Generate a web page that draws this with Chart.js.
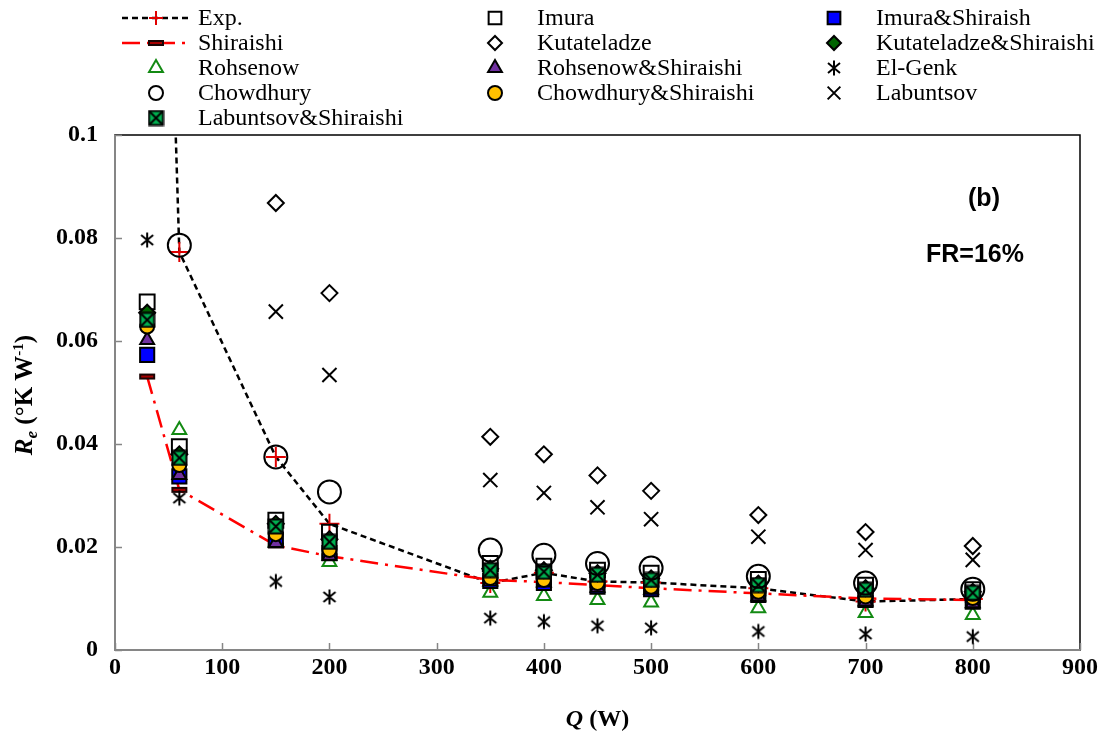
<!DOCTYPE html>
<html>
<head>
<meta charset="utf-8">
<script src="https://cdn.jsdelivr.net/npm/chart.js@4.4.1/dist/chart.umd.min.js"></script>
<style>
  html, body { margin: 0; padding: 0; background: #fff; }
</style>
</head>
<body>
<canvas id="chart" width="1106" height="741"></canvas>
<script>
// heat input Q (W)
const qValues = [30, 60, 150, 200, 350, 400, 450, 500, 600, 700, 800];

// evaporator resistance (null = above 0.1, off the plot)
const expValues = [0.28, 0.0773, 0.0375, 0.0245, 0.0130, 0.0150, 0.0133, 0.0131, 0.0120, 0.0094, 0.0099];
const shiraishiValues = [0.0531, 0.0311, 0.0203, 0.0182, 0.0136, 0.0132, 0.0126, 0.0120, 0.0110, 0.0100, 0.0097];
const rohsenowValues = [null, 0.0427, 0.0210, 0.0171, 0.0111, 0.0105, 0.0097, 0.0092, 0.0081, 0.0072, 0.0068];
const chowdhuryValues = [null, 0.0786, 0.0375, 0.0307, 0.0194, 0.0184, 0.0168, 0.0159, 0.0143, 0.0130, 0.0118];
const labShirValues = [0.0641, 0.0373, 0.0240, 0.0210, 0.0155, 0.0152, 0.0146, 0.0136, 0.0126, 0.0117, 0.0111];
const imuraValues = [0.0676, 0.0395, 0.0252, 0.0229, 0.0168, 0.0163, 0.0155, 0.0149, 0.0137, 0.0126, 0.0117];
const kutateladzeValues = [null, null, 0.0868, 0.0693, 0.0414, 0.0380, 0.0339, 0.0309, 0.0262, 0.0229, 0.0202];
const rohShirValues = [0.0602, 0.0340, 0.0208, 0.0183, 0.0133, 0.0131, 0.0121, 0.0117, 0.0104, 0.0094, 0.0091];
const chowShirValues = [0.0628, 0.0359, 0.0225, 0.0194, 0.0140, 0.0136, 0.0130, 0.0123, 0.0113, 0.0104, 0.0101];
const imuraShirValues = [0.0573, 0.0337, 0.0214, 0.0188, 0.0134, 0.0130, 0.0123, 0.0118, 0.0107, 0.0097, 0.0094];
const kutShirValues = [0.0655, 0.0380, 0.0245, 0.0215, 0.0158, 0.0155, 0.0149, 0.0139, 0.0129, 0.0120, 0.0113];
const elGenkValues = [0.0796, 0.0295, 0.0133, 0.0103, 0.0062, 0.0055, 0.0047, 0.0043, 0.0036, 0.0031, 0.0026];
const labuntsovValues = [null, null, 0.0657, 0.0534, 0.0330, 0.0305, 0.0277, 0.0254, 0.0220, 0.0194, 0.0175];

const xTicks = [0, 100, 200, 300, 400, 500, 600, 700, 800, 900];
const yTicks = [0, 0.02, 0.04, 0.06, 0.08, 0.1];

// legend grid, column by column
const legendColumns = [
  ['Exp.', 'Shiraishi', 'Rohsenow', 'Chowdhury', 'Labuntsov&Shiraishi'],
  ['Imura', 'Kutateladze', 'Rohsenow&Shiraishi', 'Chowdhury&Shiraishi'],
  ['Imura&Shiraish', 'Kutateladze&Shiraishi', 'El-Genk', 'Labuntsov']
];
const legendX = [156, 495, 834];
const legendY = [18, 43, 68, 93, 118];

const serif = 'Liberation Serif';

// small canvases for markers Chart.js has no style for
const makeMarker = (w, h, draw) => {
  const c = document.createElement('canvas');
  c.width = w;
  c.height = h;
  draw(c.getContext('2d'), w, h);
  return c;
};
const barMarker = makeMarker(18, 8, (ctx, w, h) => {
  ctx.fillStyle = '#1a0505';
  ctx.fillRect(1, 1, w - 2, h - 2);
  ctx.strokeStyle = '#d40000';
  ctx.lineWidth = 1.5;
  ctx.beginPath();
  ctx.moveTo(3, h / 2);
  ctx.lineTo(w - 3, h / 2);
  ctx.stroke();
});
const starMarker = makeMarker(18, 18, (ctx) => {
  ctx.strokeStyle = '#000';
  ctx.lineWidth = 2;
  ctx.beginPath();
  ctx.moveTo(9, 1.5); ctx.lineTo(9, 16.5);
  ctx.moveTo(3, 4); ctx.lineTo(15, 14);
  ctx.moveTo(15, 4); ctx.lineTo(3, 14);
  ctx.stroke();
});
const boxXMarker = makeMarker(17, 17, (ctx) => {
  ctx.fillStyle = '#00b050';
  ctx.fillRect(1.5, 1.5, 14, 14);
  ctx.strokeStyle = '#000';
  ctx.lineWidth = 2;
  ctx.strokeRect(1.5, 1.5, 14, 14);
  ctx.beginPath();
  ctx.moveTo(2.5, 2.5); ctx.lineTo(14.5, 14.5);
  ctx.moveTo(14.5, 2.5); ctx.lineTo(2.5, 14.5);
  ctx.stroke();
});

const toPoints = (vals) => qValues.map((q, i) => ({ x: q, y: vals[i] }));

const marker = (label, vals, style, radius, fill, stroke, order, legendRadius) => ({
  label,
  data: toPoints(vals),
  showLine: false,
  pointStyle: style,
  pointRadius: radius,
  pointBackgroundColor: fill,
  pointBorderColor: stroke,
  pointBorderWidth: 2,
  order,
  legendRadius: legendRadius || radius
});

const datasets = [
  {
    label: 'Exp.',
    data: toPoints(expValues),
    showLine: true,
    borderColor: '#000',
    borderWidth: 2.5,
    borderDash: [6, 4],
    pointStyle: 'cross',
    pointRadius: 10,
    pointBorderColor: '#e00000',
    pointBackgroundColor: '#e00000',
    pointBorderWidth: 2,
    order: 20,
    legendRadius: 7
  },
  {
    label: 'Shiraishi',
    data: toPoints(shiraishiValues),
    showLine: true,
    borderColor: '#ff0000',
    borderWidth: 2.5,
    borderDash: [18, 7, 3, 7],
    pointStyle: barMarker,
    pointRadius: 8,
    order: 19
  },
  marker('Rohsenow', rohsenowValues, 'triangle', 8, 'rgba(0,0,0,0)', '#138a13', 18, 8),
  marker('Imura', imuraValues, 'rect', 10.5, 'rgba(0,0,0,0)', '#000', 17, 9),
  marker('Imura&Shiraish', imuraShirValues, 'rect', 10, '#0000ff', '#000', 16, 9),
  marker('Rohsenow&Shiraishi', rohShirValues, 'triangle', 8, '#7030a0', '#000', 15, 8),
  marker('Chowdhury&Shiraishi', chowShirValues, 'circle', 7, '#ffc000', '#000', 14, 7),
  marker('Kutateladze&Shiraishi', kutShirValues, 'rectRot', 8, '#006400', '#000', 13, 7),
  marker('Labuntsov&Shiraishi', labShirValues, boxXMarker, 8, '#00b050', '#000', 12),
  marker('Chowdhury', chowdhuryValues, 'circle', 11.5, 'rgba(0,0,0,0)', '#000', 11, 7),
  marker('Kutateladze', kutateladzeValues, 'rectRot', 8, 'rgba(0,0,0,0)', '#000', 10, 7),
  marker('Labuntsov', labuntsovValues, 'crossRot', 10, 'rgba(0,0,0,0)', '#000', 9, 9),
  marker('El-Genk', elGenkValues, starMarker, 9, '#000', '#000', 8)
];

const fmtY = (v) => (v === 0 ? '0' : String(Number(v.toFixed(2))));

// frame, inward tick marks and axis titles
const framePlugin = {
  id: 'frame',
  beforeDatasetsDraw(chart) {
    const { ctx, chartArea: a, scales } = chart;
    ctx.save();
    ctx.strokeStyle = '#000';
    ctx.lineWidth = 1.5;
    ctx.strokeRect(a.left, a.top, a.right - a.left, a.bottom - a.top);
    ctx.strokeStyle = '#868686';
    ctx.lineWidth = 2;
    ctx.beginPath();
    ctx.moveTo(a.left, a.top);
    ctx.lineTo(a.left, a.bottom);
    ctx.lineTo(a.right, a.bottom);
    ctx.stroke();
    ctx.lineWidth = 1.5;
    ctx.beginPath();
    yTicks.forEach((v) => {
      const y = Math.round(scales.y.getPixelForValue(v)) + 0.5;
      ctx.moveTo(a.left, y);
      ctx.lineTo(a.left + 7, y);
    });
    xTicks.forEach((v) => {
      const x = Math.round(scales.x.getPixelForValue(v)) + 0.5;
      ctx.moveTo(x, a.bottom);
      ctx.lineTo(x, a.bottom - 7);
    });
    ctx.stroke();
    ctx.restore();
  },
  afterDraw(chart) {
    const { ctx, chartArea: a } = chart;
    ctx.save();
    ctx.fillStyle = '#000';
    ctx.textBaseline = 'alphabetic';
    ctx.textAlign = 'left';

    // x title: Q (W)
    const xParts = [
      { t: 'Q', f: `italic bold 24px "${serif}"`, dy: 0 },
      { t: ' (W)', f: `bold 24px "${serif}"`, dy: 0 }
    ];
    drawParts(ctx, xParts, (a.left + a.right) / 2, 726);

    // y title: Re (°K W-1), rotated
    ctx.translate(24, 395);
    ctx.rotate(-Math.PI / 2);
    const yParts = [
      { t: 'R', f: `italic bold 25px "${serif}"`, dy: 0 },
      { t: 'e', f: `italic bold 17px "${serif}"`, dy: 5 },
      { t: ' (°K W', f: `bold 25px "${serif}"`, dy: 0 },
      { t: '-1', f: `bold 15px "${serif}"`, dy: -9 },
      { t: ')', f: `bold 25px "${serif}"`, dy: 0 }
    ];
    drawParts(ctx, yParts, 0, 8);
    ctx.restore();

    // panel notes
    ctx.save();
    ctx.fillStyle = '#000';
    ctx.textAlign = 'center';
    ctx.textBaseline = 'middle';
    ctx.font = 'bold 25px "Liberation Sans"';
    ctx.fillText('(b)', 984, 199);
    ctx.font = 'bold 25px "Liberation Sans"';
    ctx.fillText('FR=16%', 975, 255);
    ctx.restore();
  }
};

function drawParts(ctx, parts, cx, baseY) {
  let total = 0;
  parts.forEach((p) => { ctx.font = p.f; total += ctx.measureText(p.t).width; });
  let x = cx - total / 2;
  parts.forEach((p) => {
    ctx.font = p.f;
    ctx.fillText(p.t, x, baseY + p.dy);
    x += ctx.measureText(p.t).width;
  });
}

// three-column legend above the plot
const legendPlugin = {
  id: 'gridLegend',
  afterDraw(chart) {
    const ctx = chart.ctx;
    legendColumns.forEach((col, ci) => {
      col.forEach((label, ri) => {
        const ds = chart.data.datasets.find((d) => d.label === label);
        const x = legendX[ci];
        const y = legendY[ri];
        ctx.save();
        if (ds.showLine) {
          ctx.strokeStyle = ds.borderColor;
          ctx.lineWidth = ds.borderWidth;
          ctx.setLineDash(ds.borderDash);
          ctx.beginPath();
          ctx.moveTo(x - 34, y);
          ctx.lineTo(x + 34, y);
          ctx.stroke();
          ctx.setLineDash([]);
        }
        ctx.fillStyle = ds.pointBackgroundColor || 'rgba(0,0,0,0)';
        ctx.strokeStyle = ds.pointBorderColor || '#000';
        ctx.lineWidth = ds.pointBorderWidth || 2;
        Chart.helpers.drawPoint(ctx, {
          pointStyle: ds.pointStyle,
          radius: ds.legendRadius || ds.pointRadius,
          borderWidth: ds.pointBorderWidth || 2,
          rotation: 0
        }, x, y);
        ctx.fillStyle = '#000';
        ctx.font = `24px "${serif}"`;
        ctx.textAlign = 'left';
        ctx.textBaseline = 'middle';
        ctx.fillText(label, x + 42, y + 1);
        ctx.restore();
      });
    });
  }
};

new Chart(document.getElementById('chart'), {
  type: 'scatter',
  data: { datasets },
  plugins: [framePlugin, legendPlugin],
  options: {
    responsive: false,
    animation: false,
    layout: { padding: { top: 135, right: 26, left: 0, bottom: 0 } },
    plugins: {
      legend: { display: false },
      tooltip: { enabled: false }
    },
    scales: {
      x: {
        type: 'linear',
        min: 0,
        max: 900,
        afterBuildTicks: (s) => { s.ticks = xTicks.map((v) => ({ value: v })); },
        afterFit: (s) => { s.height = 91; },
        grid: { display: false, drawTicks: false },
        border: { display: false },
        ticks: {
          padding: 3,
          color: '#000',
          autoSkip: false,
          maxRotation: 0,
          font: { family: serif, size: 24, weight: 'bold' },
          callback: (v) => String(v)
        }
      },
      y: {
        type: 'linear',
        min: 0,
        max: 0.1,
        afterBuildTicks: (s) => { s.ticks = yTicks.map((v) => ({ value: v })); },
        afterFit: (s) => { s.width = 115; },
        grid: { display: false, drawTicks: false },
        border: { display: false },
        ticks: {
          padding: 17,
          color: '#000',
          font: { family: serif, size: 24, weight: 'bold' },
          callback: (v) => fmtY(v)
        }
      }
    }
  }
});
</script>
</body>
</html>
